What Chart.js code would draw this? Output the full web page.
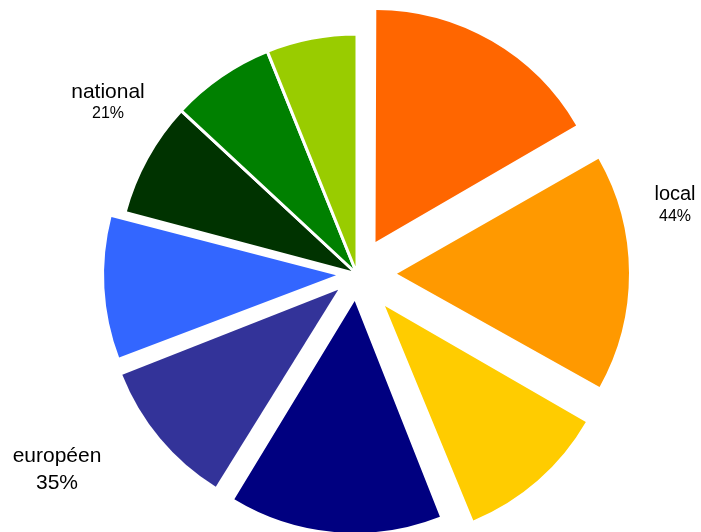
<!DOCTYPE html>
<html>
<head>
<meta charset="utf-8">
<script src="https://cdn.jsdelivr.net/npm/chart.js@4/dist/chart.umd.min.js"></script>
<style>
  html, body { margin: 0; padding: 0; background: #fff; }
  canvas { display: block; }
</style>
</head>
<body>
<canvas id="myChart" width="701" height="532"></canvas>
<script>
// slices clockwise from 12 o'clock
const groups = ['local', 'local', 'local', 'européen', 'européen', 'européen', 'national', 'national', 'national'];
const values = [16.7, 16.5, 10.8, 14.8, 10.4, 10.0, 7.8, 7.0, 6.1];
const colors = ['#FF6600', '#FF9900', '#FFCC00', '#000080', '#333399', '#3366FF', '#003300', '#008000', '#99CC00'];
const groupNames = ['local', 'national', 'européen'];

const total = values.reduce((a, b) => a + b, 0);
const groupPct = (name) => {
  let sum = 0;
  groups.forEach((g, i) => { if (g === name) sum += values[i]; });
  return Math.round(sum / total * 100) + '%';
};

// exploded slices are a little smaller than the others in the original;
// chart.js also grows exploded slices by offset * fix, take that back
const explodedShrink = 8;
const keepRadius = {
  id: 'keepRadius',
  afterDatasetsUpdate: function (chart) {
    chart.getDatasetMeta(0).data.forEach((arc) => {
      const off = (arc.options.offset || 0) / 4;
      if (!off) return;
      const fix = 1 - Math.sin(Math.min(Math.PI, arc.circumference));
      arc.outerRadius -= off * fix + explodedShrink;
    });
  }
};

const groupLabels = {
  id: 'groupLabels',
  afterDraw: function (chart) {
    const ctx = chart.ctx;
    const spots = {
      local:    { x: 675, y: 200, size: 20, pctSize: 16, gap: 21 },
      national: { x: 108, y: 98,  size: 21, pctSize: 16, gap: 20 },
      'européen': { x: 57, y: 462, size: 21, pctSize: 21, gap: 27 }
    };
    ctx.save();
    ctx.fillStyle = '#000';
    ctx.textAlign = 'center';
    ctx.textBaseline = 'alphabetic';
    groupNames.forEach((name) => {
      const s = spots[name];
      ctx.font = s.size + 'px "Liberation Sans", Arial, sans-serif';
      ctx.fillText(name, s.x, s.y);
      ctx.font = s.pctSize + 'px "Liberation Sans", Arial, sans-serif';
      ctx.fillText(groupPct(name), s.x, s.y + s.gap);
    });
    ctx.restore();
  }
};

new Chart(document.getElementById('myChart'), {
  type: 'pie',
  data: {
    labels: groups,
    datasets: [{
      data: values,
      backgroundColor: colors,
      borderColor: '#fff',
      borderWidth: [0, 0, 0, 0, 0, 0, 3, 3, 3],
      offset: [148, 160, 170, 108, 98, 84, 0, 0, 0],
      clip: false
    }]
  },
  options: {
    responsive: false,
    animation: false,
    radius: 240,
    layout: { padding: { left: 13, right: 0, top: 16, bottom: 0 } },
    plugins: {
      legend: { display: false },
      tooltip: { enabled: false }
    }
  },
  plugins: [keepRadius, groupLabels]
});
</script>
</body>
</html>
